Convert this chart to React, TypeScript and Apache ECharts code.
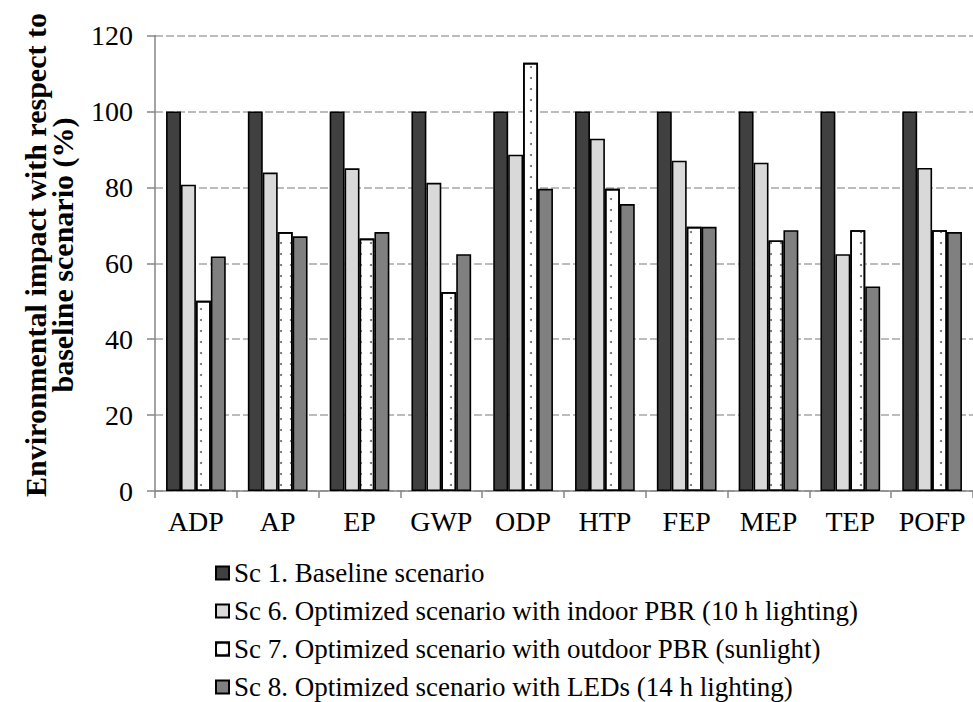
import React, { useEffect, useRef } from "react";
import * as echarts from "echarts";

const categories = ["ADP", "AP", "EP", "GWP", "ODP", "HTP", "FEP", "MEP", "TEP", "POFP"];
const seriesNames = [
  "Sc 1. Baseline scenario",
  "Sc 6. Optimized scenario with indoor PBR (10 h lighting)",
  "Sc 7. Optimized scenario with outdoor PBR (sunlight)",
  "Sc 8. Optimized scenario with LEDs (14 h lighting)",
];
const sc1 = [100, 100, 100, 100, 100, 100, 100, 100, 100, 100];
const sc6 = [80.7, 83.9, 85.0, 81.2, 88.6, 92.8, 87.0, 86.5, 62.4, 85.1];
const sc7 = [50.1, 68.2, 66.5, 52.4, 112.8, 79.6, 69.6, 66.0, 68.7, 68.7];
const sc8 = [61.8, 67.1, 68.2, 62.4, 79.6, 75.6, 69.6, 68.7, 53.9, 68.2];
const yTicks = [0, 20, 40, 60, 80, 100, 120];

const FONT = '"Liberation Serif", "Times New Roman", serif';

export default function App() {
  const ref = useRef<HTMLDivElement>(null);
  useEffect(() => {
    if (!ref.current) return;
    const chart = echarts.init(ref.current, undefined, { renderer: "svg" });
    const border = { borderColor: "#000", borderWidth: 1.6 };
    const mk = (name: string, data: number[], itemStyle: any) => ({
      name,
      type: "bar",
      data,
      barGap: "0%",
      barCategoryGap: "27%",
      itemStyle,
      emphasis: { disabled: true },
    });
    chart.setOption({
      animation: false,
      backgroundColor: "#fff",
      textStyle: { fontFamily: FONT },
      grid: { left: 155, top: 35.5, width: 819, height: 455.5 },
      xAxis: {
        type: "category",
        data: categories,
        axisLine: { lineStyle: { color: "#868686", width: 1.5 } },
        axisTick: { show: true, length: 7, lineStyle: { color: "#868686", width: 1.5 } },
        axisLabel: { fontFamily: FONT, fontSize: 28, color: "#000", margin: 16, interval: 0 },
      },
      yAxis: {
        type: "value",
        min: yTicks[0],
        max: yTicks[yTicks.length - 1],
        interval: 20,
        axisLine: { show: true, lineStyle: { color: "#868686", width: 1.5 } },
        axisTick: { show: true, length: 8, lineStyle: { color: "#868686", width: 1.5 } },
        axisLabel: { fontFamily: FONT, fontSize: 28, color: "#000", margin: 22 },
        splitLine: { lineStyle: { color: "#a6a6a6", width: 1.5, type: [8, 3] } },
      },
      legend: {
        orient: "vertical",
        left: 215,
        top: 559,
        padding: 0,
        icon: "rect",
        itemWidth: 13,
        itemHeight: 13,
        itemGap: 10,
        data: seriesNames,
        textStyle: { fontFamily: FONT, fontSize: 27, color: "#000", lineHeight: 28 },
      },
      graphic: [
        {
          type: "text",
          x: 48.5,
          y: 255,
          rotation: Math.PI / 2,
          style: {
            text: "Environmental impact with respect to\nbaseline scenario (%)",
            font: 'bold 30px "Liberation Serif", "Times New Roman", serif',
            fill: "#000",
            align: "center",
            verticalAlign: "middle",
            lineHeight: 27,
          },
        },
      ],
      series: [
        mk(seriesNames[0], sc1, { color: "#404040", ...border }),
        mk(seriesNames[1], sc6, { color: "#d9d9d9", ...border }),
        mk(seriesNames[2], sc7, {
          color: "#ffffff",
          ...border,
          decal: {
            symbol: "circle",
            symbolSize: 1,
            dashArrayX: [2, 7.3],
            dashArrayY: [2, 8.7],
            color: "#666666",
          },
        }),
        mk(seriesNames[3], sc8, { color: "#808080", ...border }),
      ],
    });
    return () => chart.dispose();
  }, []);
  return (
    <div
      ref={ref}
      style={{ position: "absolute", left: 0, top: 0, width: 973, height: 702 }}
    />
  );
}
